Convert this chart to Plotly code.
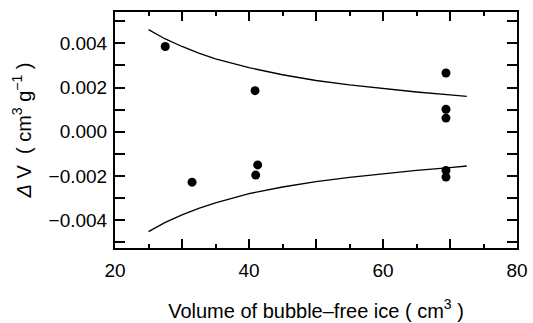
import plotly.graph_objects as go

# measured points
pt_x = [27.5, 40.9, 69.4, 69.4, 69.4, 31.5, 41.3, 41.0, 69.4, 69.4]
pt_y = [0.00386, 0.00186, 0.00266, 0.00102, 0.00062, -0.00228, -0.00150, -0.00196, -0.00175, -0.00205]

# confidence curves
curve_x = [25, 27.5, 30, 32.5, 35, 37.5, 40, 45, 50, 55, 60, 65, 70, 72.5]
upper_y = [0.00462, 0.00420, 0.00386, 0.00356, 0.00330, 0.00310, 0.00290, 0.00258, 0.00232, 0.00212, 0.00195, 0.00180, 0.00167, 0.00160]
lower_y = [-0.00452, -0.00410, -0.00376, -0.00347, -0.00322, -0.00300, -0.00280, -0.00250, -0.00226, -0.00206, -0.00189, -0.00175, -0.00162, -0.00155]

x_tickvals = [20, 30, 40, 50, 60, 70, 80]
x_ticktext = ["20", " ", "40", " ", "60", " ", "80"]
x_minorvals = [25, 35, 45, 55, 65, 75]
y_tickvals = [-0.005, -0.004, -0.003, -0.002, -0.001, 0.0, 0.001, 0.002, 0.003, 0.004, 0.005]
y_ticktext = [" ", "\u22120.004", " ", "\u22120.002", " ", "0.000", " ", "0.002", " ", "0.004", " "]

fig = go.Figure()
fig.add_trace(go.Scatter(x=curve_x, y=upper_y, mode="lines",
                         line=dict(color="black", width=1.3), showlegend=False))
fig.add_trace(go.Scatter(x=curve_x, y=lower_y, mode="lines",
                         line=dict(color="black", width=1.3), showlegend=False))
fig.add_trace(go.Scatter(x=pt_x, y=pt_y, mode="markers",
                         marker=dict(color="black", size=9), showlegend=False))

font = dict(family="Liberation Sans, Arial, sans-serif", color="black", size=18)

fig.update_layout(
    width=533, height=323,
    margin=dict(l=115, r=16, t=12, b=75),
    paper_bgcolor="white", plot_bgcolor="white",
    font=font,
)
fig.update_xaxes(range=[20, 80], tickmode="array", tickvals=x_tickvals, ticktext=x_ticktext,
                 ticks="inside", ticklen=9, tickwidth=1.5, tickcolor="black",
                 minor=dict(tickmode="array", tickvals=x_minorvals, ticks="inside",
                            ticklen=4, tickwidth=1.5, tickcolor="black"),
                 showline=True, linecolor="black", linewidth=2, mirror="ticks",
                 showgrid=False, zeroline=False, ticklabelstandoff=4, automargin=False,
                 tickfont=dict(size=19),
                 title=dict(text="Volume of bubble\u2013free ice ( cm<sup>3</sup> )", standoff=24,
                            font=dict(size=20)))
fig.update_yaxes(range=[-0.00526, 0.00542], tickmode="array", tickvals=y_tickvals, ticktext=y_ticktext,
                 ticks="inside", ticklen=10, tickwidth=1.5, tickcolor="black",
                 showline=True, linecolor="black", linewidth=2, mirror="ticks",
                 showgrid=False, zeroline=False, ticklabelstandoff=2, automargin=False,
                 tickfont=dict(size=19),
                 title=dict(text="<i>\u0394</i> V  ( cm<sup>3</sup> g<sup>\u22121</sup> )", standoff=12,
                            font=dict(size=20)))

fig.write_html("out.html")
